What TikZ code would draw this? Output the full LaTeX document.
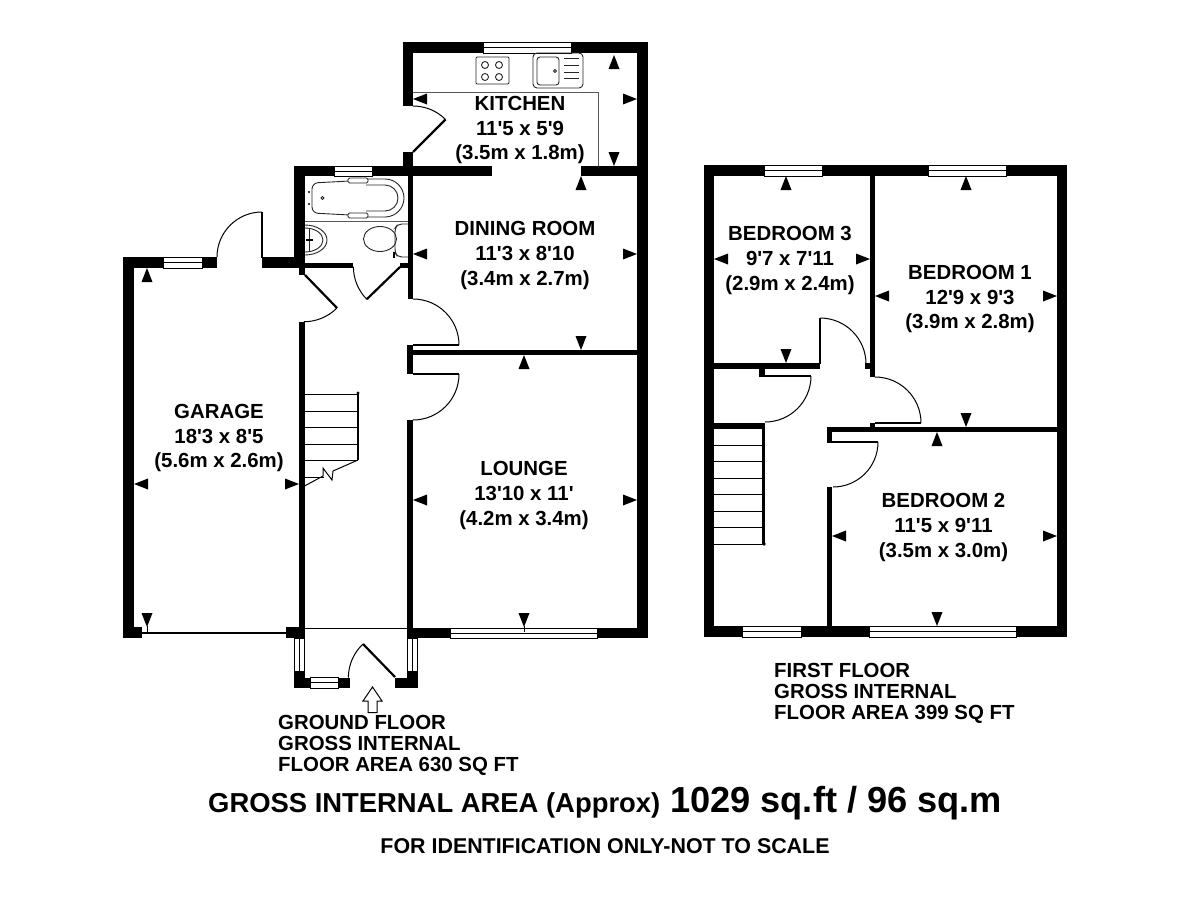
\documentclass[tikz,border=0pt]{standalone}
\usepackage{fontspec}
\setmainfont{Liberation Sans}[Ligatures=TeXOff]
\newcommand{\hwin}[4]{\draw[window] (#1,#3) rectangle (#2,#4); \draw[winline] (#1,{(#3+#4)/2}) -- (#2,{(#3+#4)/2});}
\newcommand{\vwin}[4]{\draw[window] (#1,#3) rectangle (#2,#4); \draw[winline] ({(#1+#2)/2},#3) -- ({(#1+#2)/2},#4);}
\newcommand{\tick}[3]{\fill[shift={(#1,#2)},rotate=#3] (0,0) -- (14,5.5) -- (14,-5.5) -- cycle;}
\tikzset{
	window/.style={draw=black,line width=0.9pt,fill=white},
	winline/.style={draw=black,line width=0.9pt},
	thin line/.style={draw=black,line width=1pt},
	grey line/.style={draw=black!65,line width=0.9pt},
	leaf/.style={draw=black,line width=2.2pt},
	fixture/.style={draw=black!85,line width=0.9pt},
	room/.style={align=center,font=\bfseries\fontsize{20.4}{24.8}\selectfont,inner sep=0pt},
	floorname/.style={align=left,anchor=north west,font=\bfseries\fontsize{20.4}{21}\selectfont,inner sep=0pt}
}
\begin{document}
\begin{tikzpicture}[x=1pt,y=1pt,yscale=-1]
	\useasboundingbox (0,0) rectangle (1200,900);
	% ground floor walls
	\fill (403,42) rectangle (648,53); % kitchen top
	\fill (403,42) rectangle (413,106); % kitchen left
	\fill (403,152) rectangle (413,176);
	\fill (637,42) rectangle (648,638); % east side
	\fill (294,166) rectangle (492,176);
	\fill (581,166) rectangle (648,176);
	\fill (294,166) rectangle (305,268); % bathroom left
	\fill (299,268) rectangle (305,275);
	\fill (305,263) rectangle (353,268);
	\fill (400,263) rectangle (408,268);
	\fill (408,176) rectangle (413,299); % hall right
	\fill (407,345) rectangle (413,374);
	\fill (407,420) rectangle (413,638);
	\fill (407,350) rectangle (637,355); % dining and lounge
	\fill (299,322) rectangle (304.5,638); % hall left
	\fill (123,257) rectangle (134,638); % garage left
	\fill (123,257) rectangle (217,268);
	\fill (262,257) rectangle (299,268);
	\fill (123,627) rectangle (142,638);
	\fill (286,627) rectangle (304.5,638);
	\fill (407,628) rectangle (648,638);
	% porch
	\fill (294,671) rectangle (304.5,688);
	\fill (294,677.5) rectangle (350,688);
	\fill (395,677.5) rectangle (417.5,688);
	\fill (407,671) rectangle (417.5,688);
	% ground floor windows
	\hwin{483}{571}{42}{53}
	\hwin{334}{372}{166}{176}
	\hwin{163}{202}{257}{268}
	\hwin{450}{597}{628}{638}
	\hwin{310}{338}{677.5}{688}
	\vwin{294}{304.5}{638}{671}
	\vwin{407}{417.5}{638}{671}
	\draw[thin line] (304.5,628) -- (407,628);
	\draw[line width=1.6pt] (142,633) -- (286,633); % garage door
	% doors
	\draw[leaf] (262,258) -- (262,212); %garage side door
	\draw[thin line] (262,212) arc[start angle=-90,end angle=-180,radius=45];
	\draw[leaf] (305,275) -- (337,308); %hall to garage
	\draw[thin line] (337,308) arc[start angle=45,end angle=90,radius=47];
	\draw[leaf] (400,267) -- (367,299); %bathroom
	\draw[thin line] (367,299.5) arc[start angle=135,end angle=180,radius=46.5];
	\draw[thin line] (413,299) arc[start angle=-90,end angle=0,radius=46]; %dining room
	\draw[line width=1.4pt] (413,345) -- (459,345);
	\draw[leaf] (413,374) -- (459,374); %lounge
	\draw[thin line] (459,374) arc[start angle=0,end angle=90,radius=46];
	\draw[leaf] (413,152) -- (445.5,119.5); %kitchen
	\draw[thin line] (413,106) arc[start angle=-90,end angle=-45,radius=46];
	\draw[leaf] (395,677) -- (363,644); %porch
	\draw[thin line] (363,644) arc[start angle=227,end angle=180,radius=46];
	\draw[thin line] (372.5,687) -- (382,701) -- (377,701) -- (377,712.5) -- (368,712.5) -- (368,701) -- (363,701) -- cycle; %way in
	% kitchen fittings
	\draw[grey line] (413,92) -- (598,92) -- (598,166);
	\draw[fixture,rounded corners=1pt] (476,57) rectangle (509,84); %hob
	\foreach \hx in {485,499}
		\foreach \hy in {65,77}
			\draw[fixture] (\hx,\hy) circle[radius=3.5];
	\draw[fixture,rounded corners=4pt] (533,53) rectangle (583,88); %sink
	\draw[fixture,rounded corners=3pt] (537,57) rectangle (559,85);
	\draw[fixture] (555,71) circle[radius=1.5];
	\foreach \sy in {58,65,72,78}
		\draw[fixture] (564,\sy) -- (579,\sy);
	% bathroom fittings
	\draw[grey line] (305,221) -- (408,221);
	\draw[fixture,rounded corners=6pt] (350,181) -- (312,183) -- (312,213) -- (350,215); %bath
	\draw[fixture] (366,179) -- (385,179) arc[start angle=-90,end angle=90,radius=19] -- (366,217);
	\draw[fixture] (366,185) -- (385,185) arc[start angle=-90,end angle=90,radius=13] -- (366,211);
	\draw[fixture,fill=white,rounded corners=1.5pt] (348,178) rectangle (368,183); %grab handles
	\draw[fixture,fill=white,rounded corners=1.5pt] (348,213) rectangle (368,218);
	\fill (309,192) circle[radius=1.2];
	\fill (309,204) circle[radius=1.2];
	\draw[fixture] (322.5,198) circle[radius=1.6];
	\draw[fixture] (305,225) arc[start angle=-90,end angle=90,x radius=22,y radius=15]; %basin
	\draw[fixture] (305,228) arc[start angle=-90,end angle=90,x radius=18,y radius=12];
	\draw[fixture] (309,228) -- (309,252);
	\draw[line width=1.4pt] (306,240) -- (313,240);
	\draw[fixture] (380,239) ellipse[x radius=16.5,y radius=12.5]; %toilet
	\draw[fixture,rounded corners=4pt] (408,224) -- (398,224) -- (395,228) -- (395,253) -- (398,257) -- (408,257);
	\draw[line width=1.6pt] (394,252) -- (394,258);
	% stairs
	\foreach \ty in {394,411,427,444,460,477}
		\draw[thin line] (304.5,\ty) -- (358,\ty);
	\fill[white] (324,466) rectangle (358,484);
	\draw[line width=2.4pt] (358,393) -- (358,460);
	\fill (358,393) circle[radius=1.6];
	\draw[thin line] (358,460) -- (333,471) -- (332,480) -- (323,468) -- (323,476) -- (304.5,486);
	% ground floor ticks
	\tick{413}{99}{0}
	\tick{637}{99}{180}
	\tick{614}{55}{90}
	\tick{614}{166}{-90}
	\tick{581}{176}{90}
	\tick{413}{254}{0}
	\tick{637}{254}{180}
	\tick{581}{350}{-90}
	\tick{524}{355}{90}
	\tick{147}{268}{90}
	\tick{134}{484}{0}
	\tick{299}{484}{180}
	\tick{147}{627}{-90}
	\tick{413}{500}{0}
	\tick{637}{500}{180}
	\tick{524}{627}{-90}
	\draw[thin line] (147,626) -- (147,633);
	\draw[thin line] (524,626) -- (524,632);
	% first floor walls
	\fill (704,165) rectangle (1067,176);
	\fill (704,165) rectangle (714,637);
	\fill (1057,165) rectangle (1067,637);
	\fill (704,626) rectangle (1067,637);
	\fill (870,176) rectangle (875,377);
	\fill (865,363) rectangle (870,369);
	\fill (714,363) rectangle (820,369);
	\fill (759,369) rectangle (765,377);
	\fill (714,423) rectangle (765,429);
	\fill (762,429) rectangle (765,544);
	\fill (827,427) rectangle (1057,432);
	\fill (827,427) rectangle (832,443);
	\fill (827,487) rectangle (832,637);
	\fill (870,423) rectangle (875,427);
	% first floor windows
	\hwin{764}{822}{165}{176}
	\hwin{928}{1006}{165}{176}
	\hwin{742}{801}{626}{637}
	\hwin{869}{1016}{626}{637}
	% first floor doors
	\draw[leaf] (820,364) -- (820,318);
	\draw[thin line] (820,318) arc[start angle=-90,end angle=0,radius=46];
	\draw[leaf] (765,376) -- (811,376);
	\draw[thin line] (811,376) arc[start angle=0,end angle=90,radius=46];
	\draw[thin line] (875,377) arc[start angle=-90,end angle=0,radius=46];
	\draw[line width=1.4pt] (875,423) -- (921,423);
	\draw[leaf] (832,442) -- (878,442);
	\draw[thin line] (878,442) arc[start angle=0,end angle=90,radius=45];
	% first floor stairs
	\foreach \ty in {445,461,478,494,511,527,544}
		\draw[thin line] (714,\ty) -- (763,\ty);
	\fill (764,544) circle[radius=1.8];
	% first floor ticks
	\tick{786}{176}{90}
	\tick{966}{176}{90}
	\tick{714}{259}{0}
	\tick{870}{259}{180}
	\tick{875}{296}{0}
	\tick{1057}{296}{180}
	\tick{786}{363}{-90}
	\tick{966}{427}{-90}
	\tick{937}{432}{90}
	\tick{832}{536}{0}
	\tick{1057}{536}{180}
	\tick{937}{626}{-90}
	% labels
	\node[room] (kitchen) at (520,130) {KITCHEN\\11'5 x 5'9\\(3.5m x 1.8m)};
	\node[room] (dining) at (525,255.5) {DINING ROOM\\11'3 x 8'10\\(3.4m x 2.7m)};
	\node[room] (garage) at (219,438) {GARAGE\\18'3 x 8'5\\(5.6m x 2.6m)};
	\node[room] (lounge) at (524,495.5) {LOUNGE\\13'10 x 11'\\(4.2m x 3.4m)};
	\node[room] (bedthree) at (790,260.5) {BEDROOM 3\\9'7 x 7'11\\(2.9m x 2.4m)};
	\node[room] (bedone) at (970,299) {BEDROOM 1\\12'9 x 9'3\\(3.9m x 2.8m)};
	\node[room] (bedtwo) at (943.5,527.5) {BEDROOM 2\\11'5 x 9'11\\(3.5m x 3.0m)};
	\node[floorname] (groundfloor) at (278,715) {GROUND FLOOR\\GROSS INTERNAL\\FLOOR AREA 630 SQ FT};
	\node[floorname] (firstfloor) at (774,663) {FIRST FLOOR\\GROSS INTERNAL\\FLOOR AREA 399 SQ FT};
	\node[anchor=base west,inner sep=0pt,font=\bfseries\fontsize{27.4}{30}\selectfont] (grossarea) at (208,812.5) {GROSS INTERNAL AREA (Approx)};
	\node[anchor=base west,inner sep=0pt,font=\bfseries\fontsize{36.2}{40}\selectfont] (areatotal) at (670,812.5) {1029 sq.ft / 96 sq.m};
	\node[anchor=base,inner sep=0pt,font=\bfseries\fontsize{21.4}{24}\selectfont] (scalenote) at (605,853) {FOR IDENTIFICATION ONLY-NOT TO SCALE};
\end{tikzpicture}
\end{document}
